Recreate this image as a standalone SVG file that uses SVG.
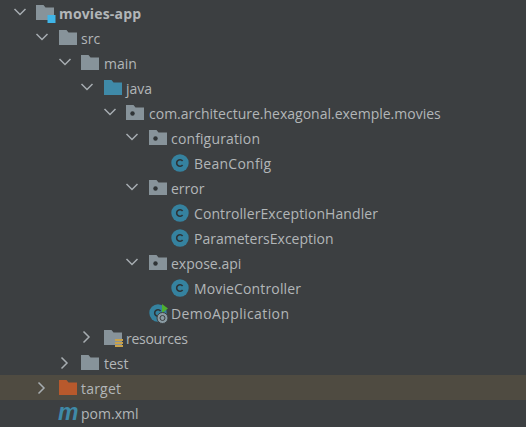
<svg xmlns="http://www.w3.org/2000/svg" width="526" height="427" viewBox="0 0 526 427">
<style>
text{font-family:"Open Sans","Noto Sans","Liberation Sans",sans-serif;font-size:14px;fill:#b2b6b8}
.b{font-weight:700}
.c{fill:none;stroke:#a7adb1;stroke-width:1.5}
.f{fill:#87939a}
.j{fill:#3f8aa8}
.cc{fill:#35829f}
.cl{fill:none;stroke:#2d3336;stroke-width:1.6}
</style>
<defs>
<path id="folder" d="M0 0H7.5L9.5 2.5H18V15H0Z"/>
<g id="pkg"><use href="#folder" class="f"/><circle cx="6.5" cy="8.5" r="2.2" fill="#2f3436"/></g>
<g id="cls"><circle cx="0" cy="0" r="8.7" class="cc"/><path class="cl" d="M2.6-2A3.3 3.3 0 1 0 2.6 2"/></g>
<path id="open" d="M-5.5-3L0 2.500L5.500-3" class="c"/>
<path id="closed" d="M-2.500-5.500L3 0L-2.500 5.500" class="c"/>
</defs>
<rect width="526" height="427" fill="#3c3f41"/>
<rect y="375" width="526" height="25" fill="#4f4b41"/>
<g id="connectors">
<use href="#open" x="20" y="12"/>
<use href="#open" x="42" y="37"/>
<use href="#open" x="65" y="62"/>
<use href="#open" x="87" y="87"/>
<use href="#open" x="110" y="112"/>
<use href="#open" x="132" y="137"/>
<use href="#open" x="132" y="187"/>
<use href="#open" x="132" y="262"/>
<use href="#closed" x="86" y="337"/>
<use href="#closed" x="64" y="363"/>
<use href="#closed" x="41" y="388"/>
</g>
<g id="movies-app"><use href="#folder" class="f" x="36" y="5"/><rect x="47.500" y="15" width="8" height="8" fill="#3fb5e8"/><text class="b" x="59" y="19" textLength="82">movies-app</text></g>
<g id="src"><use href="#folder" class="f" x="59" y="30"/><text x="81" y="43.500">src</text></g>
<g id="main"><use href="#folder" class="f" x="81" y="55"/><text x="104" y="68.500">main</text></g>
<g id="java"><use href="#folder" class="j" x="104" y="80"/><text x="126" y="93.500">java</text></g>
<g id="pkg-root"><use href="#pkg" x="126" y="105"/><text x="149" y="118.500">com.architecture.hexagonal.exemple.movies</text></g>
<g id="configuration"><use href="#pkg" x="149" y="130"/><text x="171" y="143.500" textLength="89">configuration</text></g>
<g id="BeanConfig"><use href="#cls" x="180" y="163"/><text x="194" y="168.500" textLength="77">BeanConfig</text></g>
<g id="error"><use href="#pkg" x="149" y="180"/><text x="171" y="193.500">error</text></g>
<g id="ControllerExceptionHandler"><use href="#cls" x="180" y="213"/><text x="194" y="218.500" textLength="184">ControllerExceptionHandler</text></g>
<g id="ParametersException"><use href="#cls" x="180" y="238"/><text x="194" y="243.500">ParametersException</text></g>
<g id="expose-api"><use href="#pkg" x="149" y="255"/><text x="171" y="268.500">expose.api</text></g>
<g id="MovieController"><use href="#cls" x="180" y="288"/><text x="194" y="293.500" textLength="107">MovieController</text></g>
<g id="DemoApplication"><use href="#cls" x="158" y="313"/><path d="M162 304L168 308.500L162 313Z" fill="#4fb02f"/><circle cx="162.500" cy="318" r="5.500" fill="#8a9ba3" stroke="#3c3f41"/><circle cx="162.500" cy="318" r="2.500" fill="none" stroke="#3c3f41"/><text x="171" y="318.500" textLength="118">DemoApplication</text></g>
<g id="resources"><use href="#folder" class="f" x="104" y="330"/><rect x="115" y="339" width="8" height="2" fill="#c9a24a"/><rect x="115" y="342" width="8" height="2" fill="#c9a24a"/><rect x="115" y="345" width="8" height="2" fill="#c9a24a"/><text x="126" y="343.500" textLength="62">resources</text></g>
<g id="test"><use href="#folder" class="f" x="81" y="355"/><text x="104" y="368.500">test</text></g>
<g id="target"><use href="#folder" x="59" y="380" fill="#b8592c"/><text x="81" y="393.500" textLength="40">target</text></g>
<g id="pom"><text x="58" y="420" style="font-family:'Liberation Sans',sans-serif;font-size:23px;font-weight:700;font-style:italic;fill:#3f8aa8">m</text><text x="81" y="418.500">pom.xml</text></g>
</svg>
